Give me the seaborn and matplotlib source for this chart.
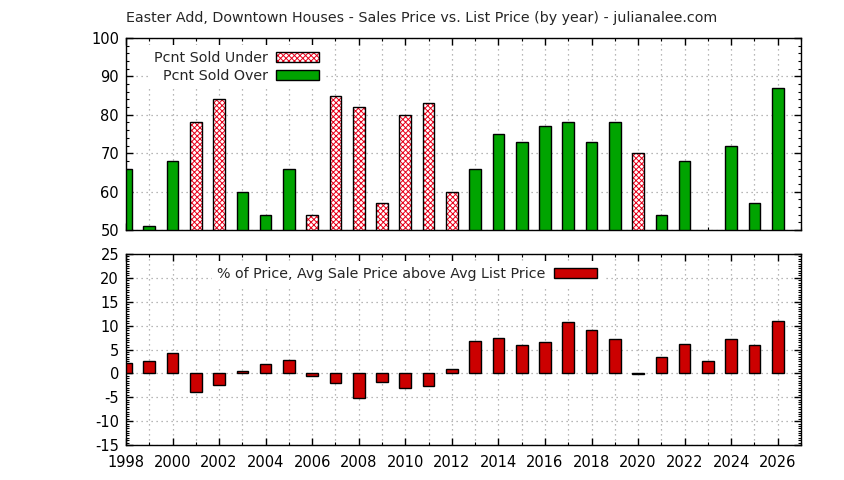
import numpy as np
import pandas as pd
import matplotlib
matplotlib.use('Agg')
import matplotlib.pyplot as plt
import seaborn as sns
from matplotlib.patches import Patch
from matplotlib.ticker import MultipleLocator

years = list(range(1998, 2027))
sold_pct = [66, 51, 68, 78, 84, 60, 54, 66, 54, 85, 82, 57, 80, 83, 60,
            66, 75, 73, 77, 78, 73, 78, 70, 54, 68, np.nan, 72, 57, 87]
sold_kind = ['over', 'over', 'over', 'under', 'under', 'over', 'over', 'over',
             'under', 'under', 'under', 'under', 'under', 'under', 'under',
             'over', 'over', 'over', 'over', 'over', 'over', 'over', 'under',
             'over', 'over', 'over', 'over', 'over', 'over']
price_diff = [2.1, 2.5, 4.2, -4.0, -2.4, 0.4, 1.9, 2.7, -0.5, -2.1, -5.1, -1.9,
              -3.0, -2.6, 1.0, 6.7, 7.5, 6.0, 6.5, 10.8, 9.0, 7.1, -0.15, 3.5,
              6.2, 2.5, 7.3, 6.0, 11.0]

title = 'Easter Add, Downtown Houses - Sales Price vs. List Price (by year) - julianalee.com'
lbl_under = 'Pcnt Sold Under'
lbl_over = 'Pcnt Sold Over'
lbl_diff = '% of Price, Avg Sale Price above Avg List Price'

df = pd.DataFrame({'year': years, 'pct': sold_pct, 'kind': sold_kind, 'diff': price_diff})
under = df[df['kind'] == 'under'].dropna()
over = df[df['kind'] == 'over'].dropna()

sns.set_style('white')
plt.rcParams['font.family'] = ['DejaVu Sans']
plt.rcParams['font.size'] = 10
plt.rcParams['axes.unicode_minus'] = False
plt.rcParams['hatch.linewidth'] = 0.7

GREEN = '#00a400'
RED = '#cc0000'
HATCH_RED = '#e8001a'
HATCH = 'xxxxxx'

fig = plt.figure(figsize=(8.44, 4.8), dpi=100)
ax1 = fig.add_axes([126/844, 1-230/480, 675/844, 192/480])
ax2 = fig.add_axes([126/844, 1-445/480, 675/844, 191/480])


def style_axis(ax, ymin, ymax, ymaj, ymin_step):
    ax.set_xlim(1998, 2027)
    ax.set_ylim(ymin, ymax)
    ax.xaxis.set_major_locator(MultipleLocator(2))
    ax.xaxis.set_minor_locator(MultipleLocator(1))
    ax.yaxis.set_major_locator(MultipleLocator(ymaj))
    ax.yaxis.set_minor_locator(MultipleLocator(ymin_step))
    ax.tick_params(which='both', direction='in', top=True, right=True,
                   bottom=True, left=True, colors='black', labelsize=10.5)
    ax.tick_params(which='major', length=5, width=1)
    ax.tick_params(which='minor', length=2.5, width=0.8)
    ax.tick_params(axis='x', pad=7)
    ax.tick_params(axis='y', pad=5)
    ax.grid(True, which='major', axis='y', linestyle=(0, (1, 3)), color='#a0a0a0', lw=0.9)
    ax.grid(True, which='both', axis='x', linestyle=(0, (1, 3)), color='#a0a0a0', lw=0.9)
    ax.set_axisbelow(True)
    for s in ax.spines.values():
        s.set_visible(True)
        s.set_color('black')
        s.set_linewidth(1)
    ax.set_xlabel('')
    ax.set_ylabel('')


# top panel: percent sold over / under
sns.barplot(data=over, x='year', y='pct', native_scale=True, width=0.5,
            color=GREEN, edgecolor='black', linewidth=1, saturation=1,
            errorbar=None, ax=ax1)
n0 = len(ax1.patches)
sns.barplot(data=under, x='year', y='pct', native_scale=True, width=0.5,
            color='white', saturation=1, errorbar=None, ax=ax1)
for p in ax1.patches[n0:]:
    p.set_edgecolor(HATCH_RED)
    p.set_hatch(HATCH)
    p.set_linewidth(0)
sns.barplot(data=under, x='year', y='pct', native_scale=True, width=0.5,
            fill=False, edgecolor='black', linewidth=1, errorbar=None, ax=ax1)
style_axis(ax1, 50, 100, 10, 2)
ax1.tick_params(labelbottom=False)

h_under = Patch(facecolor='white', edgecolor=HATCH_RED, hatch=HATCH, lw=0)
h_under_edge = Patch(facecolor='none', edgecolor='black', lw=1)
h_over = Patch(facecolor=GREEN, edgecolor='black', lw=1)
leg1 = ax1.legend([(h_under, h_under_edge), h_over], [lbl_under, lbl_over],
                  loc='upper left', bbox_to_anchor=(0.022, 1.0), markerfirst=False,
                  frameon=True, facecolor='white', edgecolor='none', framealpha=1,
                  fancybox=False, handlelength=3.0, handleheight=0.75,
                  handletextpad=0.6, labelspacing=0.3, borderpad=0.4, fontsize=10.3)

# bottom panel: sale price vs list price
sns.barplot(data=df, x='year', y='diff', native_scale=True, width=0.5,
            color=RED, edgecolor='black', linewidth=1, saturation=1,
            errorbar=None, ax=ax2)
style_axis(ax2, -15, 25, 5, 0.5)

h_diff = Patch(facecolor=RED, edgecolor='black', lw=1)
leg2 = ax2.legend([h_diff], [lbl_diff], loc='upper right',
                  bbox_to_anchor=(0.717, 1.0), markerfirst=False,
                  frameon=True, facecolor='white', edgecolor='none', framealpha=1,
                  fancybox=False, handlelength=3.0, handleheight=0.75,
                  handletextpad=0.6, borderpad=0.4, fontsize=10.3)

fig.text(126/844, 1-18/480, title, ha='left', va='center', fontsize=10.3)

fig.savefig('out.png', dpi=100)
